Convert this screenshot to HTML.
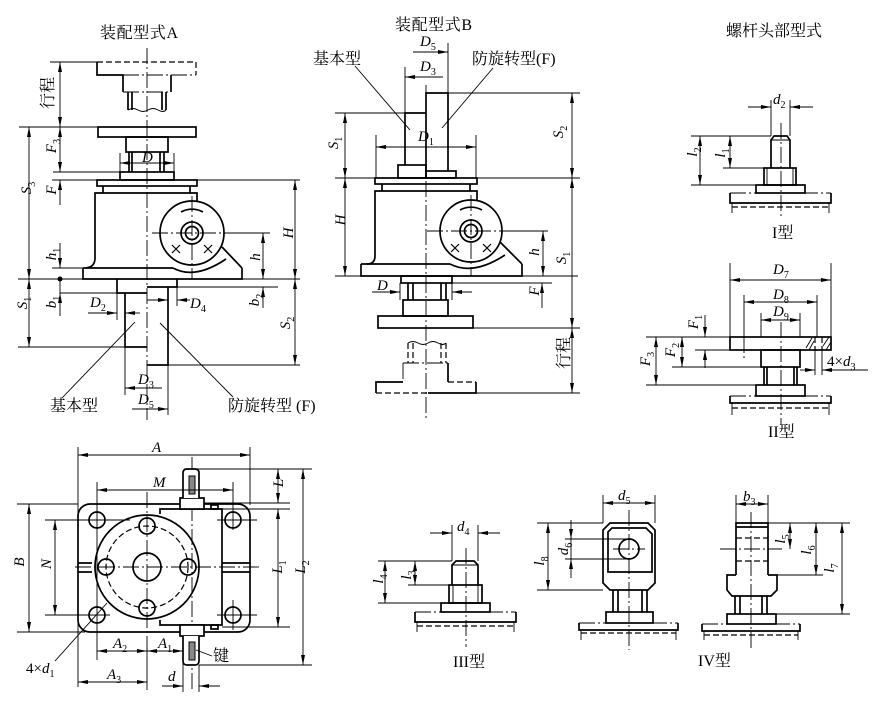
<!DOCTYPE html>
<html><head><meta charset="utf-8"><style>
html,body{margin:0;padding:0;background:#fff}
svg{display:block}
.k{stroke:#000;stroke-width:1.7;fill:none}
.n{stroke:#000;stroke-width:0.9;fill:none}
.c{stroke:#000;stroke-width:0.9;fill:none;stroke-dasharray:16 3 2 3}
.h{stroke:#000;stroke-width:1.2;fill:none;stroke-dasharray:6 3}
text{font-family:"Liberation Serif","Noto Serif CJK SC",serif;font-size:15px;fill:#000}
.z{font-size:16px}
.i{font-style:italic}
.s{font-size:10px;font-style:normal}
</style></head><body>
<svg width="877" height="722" viewBox="0 0 877 722" xmlns="http://www.w3.org/2000/svg">
<defs>
<marker id="a" markerUnits="userSpaceOnUse" markerWidth="10" markerHeight="5" viewBox="0 0 10 5" refX="10" refY="2.5" orient="auto-start-reverse"><path d="M0,0.5L10,2.5L0,4.5z" fill="#000"/></marker>
</defs>

<!-- ============ TITLES ============ -->
<text class="z" x="100" y="38" textLength="78">装配型式A</text>
<text class="z" x="395" y="30" textLength="77">装配型式B</text>
<text class="z" x="726" y="36">螺杆头部型式</text>

<!-- ============ DRAWING A ============ -->
<line class="c" x1="147" y1="48" x2="147" y2="420"/>
<path class="k" d="M97,62V75H123V92M171,75V92"/>
<line class="h" x1="97" y1="62" x2="196" y2="62"/>
<line class="h" x1="196" y1="62" x2="196" y2="75"/>
<line class="c" x1="123" y1="75" x2="196" y2="75"/>
<line class="c" x1="123" y1="92" x2="171" y2="92"/>
<path class="k" d="M128,92V110M132,92V110M162,92V110M166,92V110"/>
<path class="n" d="M128,110Q133,107 138,110T148,110T158,110T166,110"/>
<line class="n" x1="50" y1="62" x2="97" y2="62"/>
<rect class="k" x="98" y="127" width="98" height="10"/>
<rect class="k" x="126" y="137" width="42" height="15"/>
<path class="k" d="M129,152V172M132,152V172M160,152V172M164,152V172"/>
<rect class="k" x="120" y="172" width="54" height="8"/>
<path class="n" d="M120,153V172M174,153V172"/>
<line class="n" x1="120" y1="163" x2="174" y2="163" marker-start="url(#a)" marker-end="url(#a)"/>
<rect class="k" x="97" y="180" width="100" height="6"/>
<path class="k" d="M103,186V193M190,186V193"/>
<path class="k" d="M95,258V193H197V202"/>
<path class="k" d="M95,258Q95,267 86,268"/>
<path class="k" d="M83,268V279H242V268M83,268H173"/>
<path class="k" d="M173,268Q195,280 226,259"/>
<path class="k" d="M222,247L242,268"/>
<circle class="k" cx="192" cy="233" r="32"/>
<circle class="k" cx="192" cy="233" r="11"/>
<circle class="k" cx="192" cy="233" r="6.5"/>
<path class="k" d="M181,212A23,23 0 0 1 203,212"/>
<path class="n" d="M172,245l8,8M180,245l-8,8M204,245l8,8M212,245l-8,8" style="stroke-width:1.2"/>
<line class="c" x1="192" y1="196" x2="192" y2="279"/>
<line class="c" x1="152" y1="233" x2="226" y2="233"/>
<line class="n" x1="226" y1="233" x2="270" y2="233"/>
<line class="n" x1="19" y1="127" x2="98" y2="127"/>
<line class="n" x1="53" y1="172" x2="120" y2="172"/>
<line class="n" x1="52" y1="180" x2="300" y2="180"/>
<line class="n" x1="52" y1="268" x2="83" y2="268"/>
<line class="n" x1="18" y1="279" x2="300" y2="279"/>
<line class="n" x1="60" y1="293" x2="117" y2="293"/>
<line class="n" x1="177" y1="287" x2="278" y2="287"/>
<line class="n" x1="18" y1="347" x2="125" y2="347"/>
<line class="n" x1="168" y1="365" x2="300" y2="365"/>
<line class="n" x1="60" y1="62" x2="60" y2="127" marker-start="url(#a)" marker-end="url(#a)"/>
<line class="n" x1="60" y1="127" x2="60" y2="172" marker-start="url(#a)" marker-end="url(#a)"/>
<line class="n" x1="60" y1="205" x2="60" y2="180" marker-end="url(#a)"/>
<line class="n" x1="60" y1="243" x2="60" y2="268" marker-end="url(#a)"/>
<circle cx="60" cy="279" r="2.5" fill="#000"/>
<line class="n" x1="60" y1="279" x2="60" y2="293"/>
<line class="n" x1="60" y1="316" x2="60" y2="293" marker-end="url(#a)"/>
<line class="n" x1="29" y1="127" x2="29" y2="279" marker-start="url(#a)" marker-end="url(#a)"/>
<line class="n" x1="29" y1="279" x2="29" y2="347" marker-start="url(#a)" marker-end="url(#a)"/>
<line class="n" x1="295" y1="180" x2="295" y2="279" marker-start="url(#a)" marker-end="url(#a)"/>
<line class="n" x1="295" y1="279" x2="295" y2="365" marker-start="url(#a)" marker-end="url(#a)"/>
<line class="n" x1="263" y1="233" x2="263" y2="279" marker-start="url(#a)" marker-end="url(#a)"/>
<line class="n" x1="263" y1="308" x2="263" y2="287" marker-end="url(#a)"/>
<path class="k" d="M117,279V293H147M125,293V347H147"/>
<path class="k" d="M177,279V287H147M168,287V365H147"/>
<line class="n" x1="117" y1="293" x2="117" y2="320"/>
<line class="n" x1="125" y1="347" x2="125" y2="395"/>
<line class="n" x1="168" y1="365" x2="168" y2="415"/>
<line class="n" x1="177" y1="287" x2="177" y2="306"/>
<line class="n" x1="88" y1="313" x2="117" y2="313" marker-end="url(#a)"/>
<line class="n" x1="140" y1="313" x2="125" y2="313" marker-end="url(#a)"/>
<line class="n" x1="147" y1="300" x2="168" y2="300" marker-end="url(#a)"/>
<line class="n" x1="190" y1="300" x2="177" y2="300" marker-end="url(#a)"/>
<line class="n" x1="162" y1="388" x2="125" y2="388" marker-end="url(#a)"/>
<line class="n" x1="132" y1="409" x2="168" y2="409" marker-end="url(#a)"/>
<line class="n" x1="135" y1="322" x2="62" y2="398"/>
<line class="n" x1="160" y1="323" x2="233" y2="397"/>
<text class="z" x="50" y="411">基本型</text>
<text class="z" x="228" y="411">防旋转型 (F)</text>
<text class="i" x="142" y="162">D</text>
<text class="i" x="90" y="307">D<tspan class="s" dy="4">2</tspan></text>
<text class="i" x="190" y="308">D<tspan class="s" dy="4">4</tspan></text>
<text class="i" x="138" y="384">D<tspan class="s" dy="4">3</tspan></text>
<text class="i" x="138" y="404">D<tspan class="s" dy="4">5</tspan></text>
<text class="z" transform="translate(53,93) rotate(-90)" text-anchor="middle">行程</text>
<text class="i" transform="translate(56,146) rotate(-90)" text-anchor="middle">F<tspan class="s" dy="4">3</tspan></text>
<text class="i" transform="translate(56,190) rotate(-90)" text-anchor="middle">F</text>
<text class="i" transform="translate(31,188) rotate(-90)" text-anchor="middle">S<tspan class="s" dy="4">3</tspan></text>
<text class="i" transform="translate(56,254) rotate(-90)" text-anchor="middle">h<tspan class="s" dy="4">1</tspan></text>
<text class="i" transform="translate(56,302) rotate(-90)" text-anchor="middle">b<tspan class="s" dy="4">1</tspan></text>
<text class="i" transform="translate(27,303) rotate(-90)" text-anchor="middle">S<tspan class="s" dy="4">1</tspan></text>
<text class="i" transform="translate(293,233) rotate(-90)" text-anchor="middle">H</text>
<text class="i" transform="translate(260,257) rotate(-90)" text-anchor="middle">h</text>
<text class="i" transform="translate(259,300) rotate(-90)" text-anchor="middle">b<tspan class="s" dy="4">2</tspan></text>
<text class="i" transform="translate(290,323) rotate(-90)" text-anchor="middle">S<tspan class="s" dy="4">2</tspan></text>

<!-- ============ DRAWING B ============ -->
<line class="c" x1="426" y1="85" x2="426" y2="418"/>
<path class="k" d="M426,178V93H448V171"/>
<path class="k" d="M405,165V113H426"/>
<rect class="k" x="398" y="165" width="28" height="13"/>
<rect class="k" x="426" y="171" width="30" height="7"/>
<line class="n" x1="448" y1="43" x2="448" y2="93"/>
<line class="n" x1="405" y1="67" x2="405" y2="113"/>
<line class="n" x1="448" y1="93" x2="580" y2="93"/>
<line class="n" x1="335" y1="113" x2="405" y2="113"/>
<line class="n" x1="335" y1="178" x2="580" y2="178"/>
<line class="n" x1="413" y1="52" x2="448" y2="52" marker-end="url(#a)"/>
<line class="n" x1="443" y1="77" x2="405" y2="77" marker-end="url(#a)"/>
<line class="n" x1="376" y1="147" x2="476" y2="147" marker-start="url(#a)" marker-end="url(#a)"/>
<path class="n" d="M376,135V178M476,135V178"/>
<line class="n" x1="345" y1="113" x2="345" y2="178" marker-start="url(#a)" marker-end="url(#a)"/>
<line class="n" x1="572" y1="93" x2="572" y2="178" marker-start="url(#a)" marker-end="url(#a)"/>
<line class="n" x1="355" y1="66" x2="410" y2="130"/>
<line class="n" x1="493" y1="68" x2="442" y2="128"/>
<rect class="k" x="375" y="178" width="102" height="6"/>
<path class="k" d="M382,184V191M470,184V191"/>
<path class="k" d="M375,256V191H477V200"/>
<path class="k" d="M375,256Q375,264 367,264"/>
<path class="k" d="M361,264V276H522V264M361,264H450"/>
<path class="k" d="M450,264Q473,276 505,255"/>
<path class="k" d="M500,242L522,264"/>
<circle class="k" cx="471" cy="231" r="31"/>
<circle class="k" cx="471" cy="231" r="11"/>
<circle class="k" cx="471" cy="231" r="6.5"/>
<path class="k" d="M460,210A23,23 0 0 1 482,210"/>
<path class="n" d="M451,244l8,8M459,244l-8,8M483,244l8,8M491,244l-8,8" style="stroke-width:1.2"/>
<line class="c" x1="471" y1="195" x2="471" y2="276"/>
<line class="c" x1="427" y1="231" x2="503" y2="231"/>
<line class="n" x1="503" y1="231" x2="548" y2="231"/>
<line class="n" x1="345" y1="178" x2="345" y2="276" marker-start="url(#a)" marker-end="url(#a)"/>
<line class="n" x1="335" y1="276" x2="578" y2="276"/>
<line class="n" x1="543" y1="231" x2="543" y2="276" marker-start="url(#a)" marker-end="url(#a)"/>
<line class="n" x1="542" y1="308" x2="542" y2="283" marker-end="url(#a)"/>
<line class="n" x1="572" y1="178" x2="572" y2="328" marker-start="url(#a)" marker-end="url(#a)"/>
<line class="n" x1="572" y1="328" x2="572" y2="393" marker-start="url(#a)" marker-end="url(#a)"/>
<rect class="k" x="401" y="276" width="51" height="7"/>
<line class="n" x1="452" y1="283" x2="552" y2="283"/>
<path class="k" d="M408,283V300M413,283V300M441,283V300M446,283V300"/>
<path class="n" d="M400,283V300M452,283V300"/>
<line class="n" x1="372" y1="292" x2="400" y2="292" marker-end="url(#a)"/>
<line class="n" x1="472" y1="292" x2="452" y2="292" marker-end="url(#a)"/>
<rect class="k" x="403" y="300" width="45" height="16"/>
<rect class="k" x="378" y="316" width="95" height="12"/>
<line class="n" x1="473" y1="328" x2="580" y2="328"/>
<path class="h" d="M408,343V363M413,343V363M441,343V363M446,343V363"/>
<path class="n" d="M408,343Q413,340 418,343T428,343T438,343T446,343"/>
<line class="c" x1="403" y1="363" x2="403" y2="382"/>
<line class="c" x1="403" y1="363" x2="448" y2="363"/>
<line class="k" x1="448" y1="363" x2="448" y2="382"/>
<path class="k" d="M403,382H376V393M476,382V393H428"/>
<line class="h" x1="448" y1="382" x2="476" y2="382"/>
<line class="h" x1="376" y1="393" x2="428" y2="393"/>
<line class="n" x1="476" y1="393" x2="580" y2="393"/>
<text class="z" x="313" y="64">基本型</text>
<text class="z" x="472" y="64">防旋转型(F)</text>
<text class="i" x="420" y="46">D<tspan class="s" dy="4">5</tspan></text>
<text class="i" x="420" y="71">D<tspan class="s" dy="4">3</tspan></text>
<text class="i" x="418" y="141">D<tspan class="s" dy="4">1</tspan></text>
<text class="i" x="377" y="290">D</text>
<text class="i" transform="translate(338,143) rotate(-90)" text-anchor="middle">S<tspan class="s" dy="4">1</tspan></text>
<text class="i" transform="translate(563,132) rotate(-90)" text-anchor="middle">S<tspan class="s" dy="4">2</tspan></text>
<text class="i" transform="translate(345,220) rotate(-90)" text-anchor="middle">H</text>
<text class="i" transform="translate(539,252) rotate(-90)" text-anchor="middle">h</text>
<text class="i" transform="translate(566,258) rotate(-90)" text-anchor="middle">S<tspan class="s" dy="4">1</tspan></text>
<text class="i" transform="translate(539,291) rotate(-90)" text-anchor="middle">F</text>
<text class="z" transform="translate(569,353) rotate(-90)" text-anchor="middle">行程</text>

<!-- ============ TYPE I ============ -->
<line class="c" x1="781" y1="123" x2="781" y2="218"/>
<line class="n" x1="748" y1="107" x2="771" y2="107" marker-end="url(#a)"/>
<line class="n" x1="813" y1="107" x2="790" y2="107" marker-end="url(#a)"/>
<path class="n" d="M771,100V136M790,100V136"/>
<path class="k" d="M771,168V140L774,136H787L790,140V168"/>
<line class="n" x1="771" y1="140" x2="790" y2="140"/>
<rect class="k" x="764" y="168" width="32" height="17"/>
<path class="n" d="M767,168V185M793,168V185"/>
<rect class="k" x="756" y="185" width="49" height="8"/>
<line class="c" x1="730" y1="193" x2="831" y2="193"/>
<path class="k" d="M730,193V203H831V193"/>
<line class="h" x1="732" y1="207" x2="829" y2="207"/>
<path class="n" d="M732,203V213M829,203V213"/>
<line class="n" x1="700" y1="136" x2="700" y2="185" marker-start="url(#a)" marker-end="url(#a)"/>
<line class="n" x1="691" y1="136" x2="771" y2="136"/>
<line class="n" x1="691" y1="185" x2="764" y2="185"/>
<line class="n" x1="730" y1="136" x2="730" y2="168" marker-start="url(#a)" marker-end="url(#a)"/>
<line class="n" x1="723" y1="168" x2="771" y2="168"/>
<text class="i" x="773" y="104">d<tspan class="s" dy="4">2</tspan></text>
<text class="i" transform="translate(697,152) rotate(-90)" text-anchor="middle">l<tspan class="s" dy="4">2</tspan></text>
<text class="i" transform="translate(725,153) rotate(-90)" text-anchor="middle">l<tspan class="s" dy="4">1</tspan></text>
<text class="z" x="772" y="238">I型</text>

<!-- ============ TYPE II ============ -->
<line class="c" x1="781" y1="322" x2="781" y2="425"/>
<line class="n" x1="730" y1="280" x2="831" y2="280" marker-start="url(#a)" marker-end="url(#a)"/>
<path class="n" d="M730,263V337M831,263V337"/>
<line class="n" x1="744" y1="302" x2="817" y2="302" marker-start="url(#a)" marker-end="url(#a)"/>
<path class="n" d="M744,295V337M817,295V337"/>
<line class="c" x1="744" y1="337" x2="744" y2="358"/>
<line class="n" x1="761" y1="320" x2="800" y2="320" marker-start="url(#a)" marker-end="url(#a)"/>
<path class="n" d="M761,313V337M800,313V337"/>
<rect class="k" x="730" y="337" width="101" height="13"/>
<path class="n" d="M806,348L812,338M809,350L814,341M823,346L829,337M826,350L831,342"/>
<path class="h" d="M815,337V350M822,337V350"/>
<path class="n" d="M815,350V375M822,350V375"/>
<rect class="k" x="761" y="350" width="39" height="17"/>
<path class="k" d="M764,367V385M767,367V385M794,367V385M797,367V385"/>
<rect class="k" x="756" y="385" width="49" height="11"/>
<line class="c" x1="730" y1="396" x2="831" y2="396"/>
<path class="k" d="M730,396V403H831V396"/>
<line class="h" x1="732" y1="408" x2="829" y2="408"/>
<path class="n" d="M732,403V415M829,403V415"/>
<line class="n" x1="705" y1="315" x2="705" y2="337" marker-end="url(#a)"/>
<line class="n" x1="705" y1="368" x2="705" y2="350" marker-end="url(#a)"/>
<line class="n" x1="695" y1="350" x2="730" y2="350"/>
<line class="n" x1="682" y1="337" x2="682" y2="367" marker-start="url(#a)" marker-end="url(#a)"/>
<line class="n" x1="672" y1="367" x2="761" y2="367"/>
<line class="n" x1="656" y1="337" x2="656" y2="385" marker-start="url(#a)" marker-end="url(#a)"/>
<line class="n" x1="646" y1="385" x2="764" y2="385"/>
<line class="n" x1="646" y1="337" x2="730" y2="337"/>
<line class="n" x1="800" y1="370" x2="815" y2="370" marker-end="url(#a)"/>
<line class="n" x1="868" y1="370" x2="822" y2="370" marker-end="url(#a)"/>
<text class="i" x="773" y="274">D<tspan class="s" dy="4">7</tspan></text>
<text class="i" x="773" y="299">D<tspan class="s" dy="4">8</tspan></text>
<text class="i" x="773" y="316">D<tspan class="s" dy="4">9</tspan></text>
<text x="827" y="366">4×<tspan class="i">d</tspan><tspan class="s" dy="4">3</tspan></text>
<text class="i" transform="translate(698,322) rotate(-90)" text-anchor="middle">F<tspan class="s" dy="4">1</tspan></text>
<text class="i" transform="translate(675,350) rotate(-90)" text-anchor="middle">F<tspan class="s" dy="4">2</tspan></text>
<text class="i" transform="translate(650,359) rotate(-90)" text-anchor="middle">F<tspan class="s" dy="4">3</tspan></text>
<text class="z" x="768" y="437">II型</text>

<!-- ============ PLAN VIEW ============ -->
<rect class="k" x="78" y="504" width="172" height="128" rx="12"/>
<path class="k" d="M160,514V509H222V625H160V620" style="fill:#fff"/>
<rect class="k" x="211" y="505" width="7" height="4"/>
<rect class="k" x="211" y="625" width="7" height="4"/>
<path class="k" d="M78,563H92M78,572H92M222,563H250M222,572H250"/>
<circle class="k" cx="147" cy="567" r="52" style="fill:#fff"/>
<circle class="h" cx="147" cy="567" r="41"/>
<circle class="k" cx="147" cy="567" r="14"/>
<circle class="k" cx="147" cy="526" r="8"/>
<circle class="k" cx="147" cy="608" r="8"/>
<circle class="k" cx="106" cy="567" r="8"/>
<circle class="k" cx="188" cy="567" r="8"/>
<circle class="k" cx="97" cy="520" r="8"/>
<circle class="k" cx="233" cy="520" r="8"/>
<circle class="k" cx="97" cy="615" r="8"/>
<circle class="k" cx="233" cy="615" r="8"/>
<line class="c" x1="75" y1="567" x2="262" y2="567"/>
<line class="c" x1="147" y1="492" x2="147" y2="640"/>
<line class="n" x1="147" y1="640" x2="147" y2="690"/>
<line class="c" x1="192" y1="457" x2="192" y2="692"/>
<path class="n" d="M45,520H130M217,520H257M45,615H110M217,615H257"/>
<path class="n" d="M97,482V660M233,482V530M233,600V630"/>
<rect class="k" x="180" y="498" width="24" height="11" style="fill:#fff"/>
<path class="k" d="M183,498V473Q183,469 187,469H195Q199,469 199,473V498" style="fill:#fff"/>
<rect x="189" y="476" width="6" height="18" fill="#888" stroke="#000" stroke-width="1"/>
<rect class="k" x="180" y="625" width="24" height="11" style="fill:#fff"/>
<path class="k" d="M183,636V661Q183,665 187,665H195Q199,665 199,661V636" style="fill:#fff"/>
<rect x="189" y="642" width="6" height="18" fill="#888" stroke="#000" stroke-width="1"/>
<line class="n" x1="78" y1="455" x2="250" y2="455" marker-start="url(#a)" marker-end="url(#a)"/>
<path class="n" d="M78,447V687M250,447V505"/>
<line class="n" x1="97" y1="490" x2="233" y2="490" marker-start="url(#a)" marker-end="url(#a)"/>
<line class="n" x1="29" y1="504" x2="29" y2="632" marker-start="url(#a)" marker-end="url(#a)"/>
<path class="n" d="M17,504H78M17,632H85"/>
<line class="n" x1="55" y1="520" x2="55" y2="615" marker-start="url(#a)" marker-end="url(#a)"/>
<line class="n" x1="278" y1="469" x2="278" y2="503" marker-start="url(#a)" marker-end="url(#a)"/>
<line class="n" x1="278" y1="509" x2="278" y2="627" marker-start="url(#a)" marker-end="url(#a)"/>
<line class="n" x1="303" y1="469" x2="303" y2="665" marker-start="url(#a)" marker-end="url(#a)"/>
<path class="n" d="M192,469H312M204,503H290M222,509H290M222,627H290M199,665H312"/>
<line class="n" x1="97" y1="651" x2="147" y2="651" marker-start="url(#a)" marker-end="url(#a)"/>
<line class="n" x1="147" y1="651" x2="183" y2="651" marker-start="url(#a)" marker-end="url(#a)"/>
<line class="n" x1="78" y1="682" x2="147" y2="682" marker-start="url(#a)" marker-end="url(#a)"/>
<path class="n" d="M183,636V692M199,665V692"/>
<line class="n" x1="162" y1="686" x2="183" y2="686" marker-end="url(#a)"/>
<line class="n" x1="220" y1="686" x2="199" y2="686" marker-end="url(#a)"/>
<line class="n" x1="196" y1="650" x2="212" y2="656"/>
<line class="n" x1="55" y1="661" x2="107" y2="603"/>
<text class="i" x="152" y="452">A</text>
<text class="i" x="153" y="487">M</text>
<text class="i" x="113" y="648">A<tspan class="s" dy="4">2</tspan></text>
<text class="i" x="158" y="648">A<tspan class="s" dy="4">1</tspan></text>
<text class="i" x="107" y="679">A<tspan class="s" dy="4">3</tspan></text>
<text class="i" x="168" y="681">d</text>
<text class="z" x="213" y="661">键</text>
<text x="26" y="673">4×<tspan class="i">d</tspan><tspan class="s" dy="4">1</tspan></text>
<text class="i" transform="translate(24,562) rotate(-90)" text-anchor="middle">B</text>
<text class="i" transform="translate(51,564) rotate(-90)" text-anchor="middle">N</text>
<text class="i" transform="translate(283,483) rotate(-90)" text-anchor="middle">L</text>
<text class="i" transform="translate(282,567) rotate(-90)" text-anchor="middle">L<tspan class="s" dy="4">1</tspan></text>
<text class="i" transform="translate(305,567) rotate(-90)" text-anchor="middle">L<tspan class="s" dy="4">2</tspan></text>

<!-- ============ TYPE III ============ -->
<line class="c" x1="466" y1="548" x2="466" y2="647"/>
<line class="n" x1="430" y1="533" x2="452" y2="533" marker-end="url(#a)"/>
<line class="n" x1="500" y1="533" x2="478" y2="533" marker-end="url(#a)"/>
<path class="n" d="M452,525V561M478,525V561"/>
<path class="k" d="M452,585V565L456,561H474L478,565V585"/>
<line class="n" x1="452" y1="565" x2="478" y2="565"/>
<rect class="k" x="449" y="585" width="33" height="18"/>
<path class="n" d="M453,585V603M478,585V603"/>
<rect class="k" x="441" y="603" width="49" height="9"/>
<line class="c" x1="415" y1="612" x2="516" y2="612"/>
<path class="k" d="M415,612V622H516V612"/>
<line class="h" x1="417" y1="626" x2="514" y2="626"/>
<path class="n" d="M417,622V632M514,622V632"/>
<line class="n" x1="385" y1="561" x2="385" y2="603" marker-start="url(#a)" marker-end="url(#a)"/>
<path class="n" d="M378,561H452M378,603H449M408,585H452"/>
<line class="n" x1="415" y1="561" x2="415" y2="585" marker-start="url(#a)" marker-end="url(#a)"/>
<text class="i" x="457" y="531">d<tspan class="s" dy="4">4</tspan></text>
<text class="i" transform="translate(383,579) rotate(-90)" text-anchor="middle">l<tspan class="s" dy="4">4</tspan></text>
<text class="i" transform="translate(411,575) rotate(-90)" text-anchor="middle">l<tspan class="s" dy="4">3</tspan></text>
<text class="z" x="453" y="667">III型</text>

<!-- ============ TYPE IV (eye) ============ -->
<line class="c" x1="629" y1="510" x2="629" y2="650"/>
<line class="n" x1="603" y1="503" x2="655" y2="503" marker-start="url(#a)" marker-end="url(#a)"/>
<path class="n" d="M603,495V523M655,495V523"/>
<path class="k" d="M603,530L610,523H648L655,530V583L648,590H610L603,583Z"/>
<path class="k" d="M608,572V532L612,528H646L652,534V572Z"/>
<circle class="k" cx="629" cy="549" r="10"/>
<line class="c" x1="613" y1="549" x2="645" y2="549"/>
<path class="k" d="M613,590V612M618,590V612M642,590V612M647,590V612"/>
<rect class="k" x="606" y="612" width="47" height="11"/>
<line class="c" x1="579" y1="623" x2="678" y2="623"/>
<path class="k" d="M579,623V630H678V623"/>
<line class="h" x1="581" y1="633" x2="676" y2="633"/>
<path class="n" d="M581,630V640M676,630V640"/>
<line class="n" x1="548" y1="523" x2="548" y2="590" marker-start="url(#a)" marker-end="url(#a)"/>
<path class="n" d="M537,523H603M537,590H603M565,539H629M565,559H629"/>
<line class="n" x1="571" y1="520" x2="571" y2="539" marker-end="url(#a)"/>
<line class="n" x1="571" y1="539" x2="571" y2="559"/>
<line class="n" x1="571" y1="578" x2="571" y2="559" marker-end="url(#a)"/>
<text class="i" x="618" y="500">d<tspan class="s" dy="4">5</tspan></text>
<text class="i" transform="translate(544,561) rotate(-90)" text-anchor="middle">l<tspan class="s" dy="4">8</tspan></text>
<text class="i" transform="translate(568,549) rotate(-90)" text-anchor="middle">d<tspan class="s" dy="4">6</tspan></text>

<!-- ============ TYPE IV (fork) ============ -->
<line class="c" x1="751" y1="512" x2="751" y2="650"/>
<line class="n" x1="736" y1="504" x2="768" y2="504" marker-start="url(#a)" marker-end="url(#a)"/>
<path class="n" d="M736,495V523M768,495V523"/>
<path class="k" d="M736,575V523H768V575"/>
<line class="k" x1="736" y1="527" x2="768" y2="527"/>
<path class="h" d="M736,538H768M736,561H768"/>
<line class="c" x1="720" y1="549" x2="782" y2="549"/>
<path class="k" d="M736,575H727V590L732,596H771L777,590V575H768"/>
<path class="k" d="M735,596V614M740,596V614M762,596V614M767,596V614"/>
<rect class="k" x="727" y="614" width="49" height="10"/>
<line class="c" x1="702" y1="624" x2="800" y2="624"/>
<path class="k" d="M702,624V631H800V624"/>
<line class="h" x1="704" y1="635" x2="798" y2="635"/>
<path class="n" d="M704,631V640M798,631V640"/>
<path class="n" d="M768,523H850M777,575H823M776,614H850"/>
<line class="n" x1="790" y1="523" x2="790" y2="549" marker-start="url(#a)" marker-end="url(#a)"/>
<line class="n" x1="816" y1="523" x2="816" y2="575" marker-start="url(#a)" marker-end="url(#a)"/>
<line class="n" x1="842" y1="523" x2="842" y2="614" marker-start="url(#a)" marker-end="url(#a)"/>
<text class="i" x="743" y="501">b<tspan class="s" dy="4">3</tspan></text>
<text class="i" transform="translate(785,539) rotate(-90)" text-anchor="middle">l<tspan class="s" dy="4">5</tspan></text>
<text class="i" transform="translate(811,550) rotate(-90)" text-anchor="middle">l<tspan class="s" dy="4">6</tspan></text>
<text class="i" transform="translate(834,568) rotate(-90)" text-anchor="middle">l<tspan class="s" dy="4">7</tspan></text>
<text class="z" x="698" y="666">IV型</text>
</svg>
</body></html>
